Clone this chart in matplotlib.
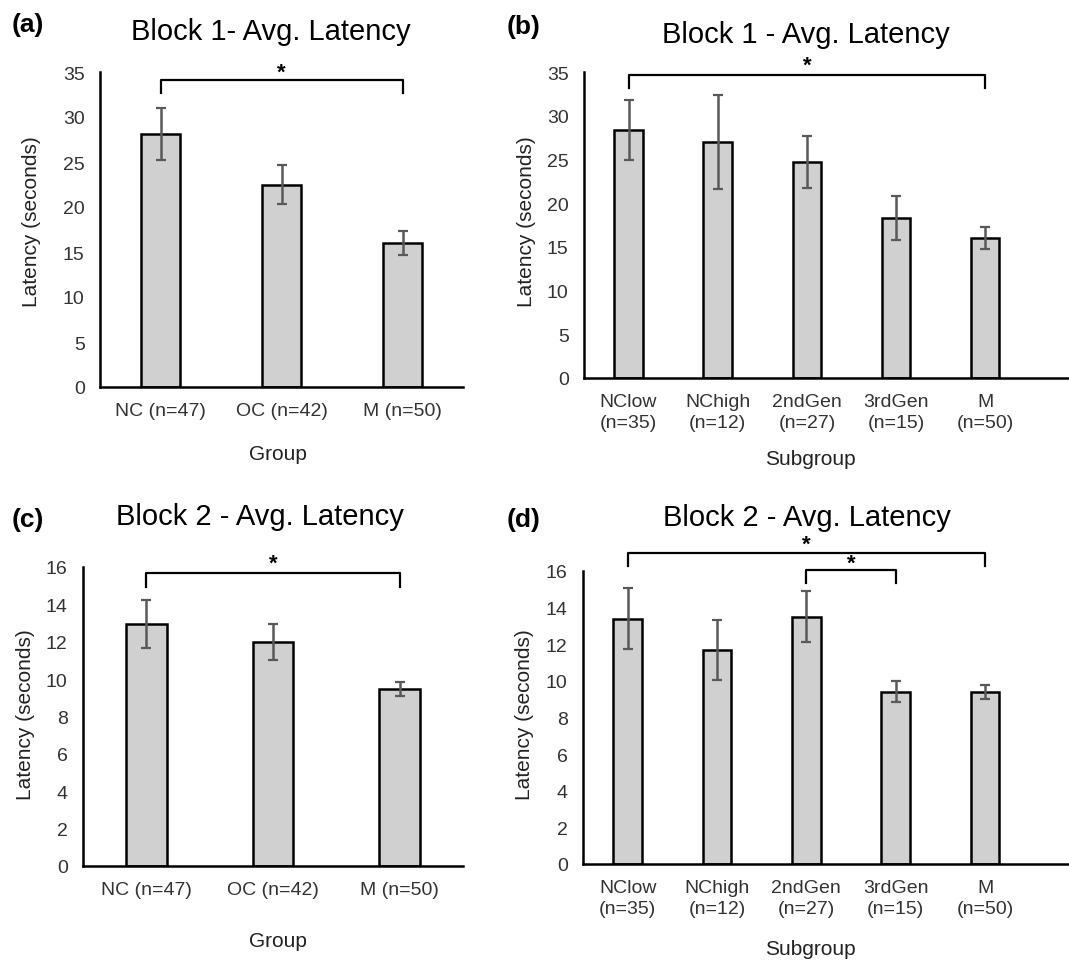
import numpy as np
import matplotlib
matplotlib.use('Agg')
import matplotlib.pyplot as plt

plt.rcParams['font.family'] = ['Liberation Sans', 'DejaVu Sans']

# categories
groups = ['NC (n=47)', 'OC (n=42)', 'M (n=50)']
subgroups = ['NClow\n(n=35)', 'NChigh\n(n=12)', '2ndGen\n(n=27)', '3rdGen\n(n=15)', 'M\n(n=50)']

# block 1 latency (seconds), mean and error
b1_group_mean = [28.1, 22.5, 16.0]
b1_group_err = [2.9, 2.2, 1.3]
b1_sub_mean = [28.4, 27.0, 24.7, 18.3, 16.0]
b1_sub_err = [3.45, 5.4, 2.95, 2.5, 1.3]

# block 2 latency (seconds), mean and error
b2_group_mean = [12.95, 12.0, 9.45]
b2_group_err = [1.28, 0.97, 0.37]
b2_sub_mean = [13.4, 11.7, 13.5, 9.4, 9.4]
b2_sub_err = [1.65, 1.65, 1.4, 0.57, 0.38]

W, H = 1069, 962
fig = plt.figure(figsize=(W / 100, H / 100), dpi=100)


def px_axes(x0, x1, y0, y1):
    # y0 = top pixel, y1 = bottom pixel
    return fig.add_axes([x0 / W, 1 - y1 / H, (x1 - x0) / W, (y1 - y0) / H])


def ftext(x, y, s, **kw):
    fig.text(x / W, 1 - y / H, s, **kw)


def bar_panel(ax, labels, means, errs, ymax, ystep, xright):
    x = np.arange(len(labels))
    ax.bar(x, means, width=0.32, color='#d0d0d0', edgecolor='black', linewidth=1.8, zorder=2)
    ax.errorbar(x, means, yerr=errs, fmt='none', ecolor='#595959', elinewidth=1.8,
                capsize=3.5, capthick=1.6, zorder=3)
    ax.set_xlim(-0.5, xright)
    ax.set_ylim(0, ymax)
    ax.set_yticks(np.arange(0, ymax + 0.1, ystep))
    ax.set_xticks(x)
    ax.set_xticklabels(labels, linespacing=1.25)
    for s in ['top', 'right']:
        ax.spines[s].set_visible(False)
    for s in ['left', 'bottom']:
        ax.spines[s].set_linewidth(1.8)
    ax.tick_params(length=0, labelsize=14, labelcolor='#333333')
    ax.tick_params(axis='y', pad=11)
    ax.tick_params(axis='x', pad=11)


def bracket(ax, x0, x1, y, drop, sx, sy):
    ax.plot([x0, x0, x1, x1], [y - drop, y, y, y - drop], color='black', lw=1.6, clip_on=False)
    ax.text(sx, sy, '*', ha='center', va='center', fontsize=16, fontweight='bold', clip_on=False)


# (a)
ax_a = px_axes(100, 463, 73, 388)
bar_panel(ax_a, groups, b1_group_mean, b1_group_err, 35, 5, 2.5)
bracket(ax_a, 0, 2, 34.1, 1.4, 1, 35.0)

# (b)
ax_b = px_axes(584, 1069, 73, 379)
bar_panel(ax_b, subgroups, b1_sub_mean, b1_sub_err, 35, 5, 4.94)
bracket(ax_b, 0, 4, 34.7, 1.5, 2, 35.8)

# (c)
ax_c = px_axes(83, 463, 568, 867)
bar_panel(ax_c, groups, b2_group_mean, b2_group_err, 16, 2, 2.5)
bracket(ax_c, 0, 2, 15.68, 0.73, 1, 16.2)

# (d)
ax_d = px_axes(583, 1069, 572, 865)
bar_panel(ax_d, subgroups, b2_sub_mean, b2_sub_err, 16, 2, 4.94)
bracket(ax_d, 0, 4, 17.0, 0.7, 2, 17.45)
bracket(ax_d, 2, 3, 16.05, 0.72, 2.5, 16.45)

# titles and panel letters
ftext(271, 32, 'Block 1- Avg. Latency', ha='center', va='center', fontsize=21)
ftext(806, 35, 'Block 1 - Avg. Latency', ha='center', va='center', fontsize=21)
ftext(260, 517, 'Block 2 - Avg. Latency', ha='center', va='center', fontsize=21)
ftext(807, 518, 'Block 2 - Avg. Latency', ha='center', va='center', fontsize=21)

ftext(12, 25, '(a)', ha='left', va='center', fontsize=19, fontweight='bold')
ftext(507, 27, '(b)', ha='left', va='center', fontsize=19, fontweight='bold')
ftext(12, 520, '(c)', ha='left', va='center', fontsize=19, fontweight='bold')
ftext(507, 520, '(d)', ha='left', va='center', fontsize=19, fontweight='bold')

# axis labels
for x, y in [(32, 222), (526, 222), (26, 715), (525, 715)]:
    ftext(x, y, 'Latency (seconds)', ha='center', va='center', rotation=90, fontsize=15, color='#222222')
ftext(278, 455, 'Group', ha='center', va='center', fontsize=15, color='#222222')
ftext(810, 460, 'Subgroup', ha='center', va='center', fontsize=15, color='#222222')
ftext(278, 942, 'Group', ha='center', va='center', fontsize=15, color='#222222')
ftext(810, 950, 'Subgroup', ha='center', va='center', fontsize=15, color='#222222')

fig.savefig('out.png', dpi=100)
